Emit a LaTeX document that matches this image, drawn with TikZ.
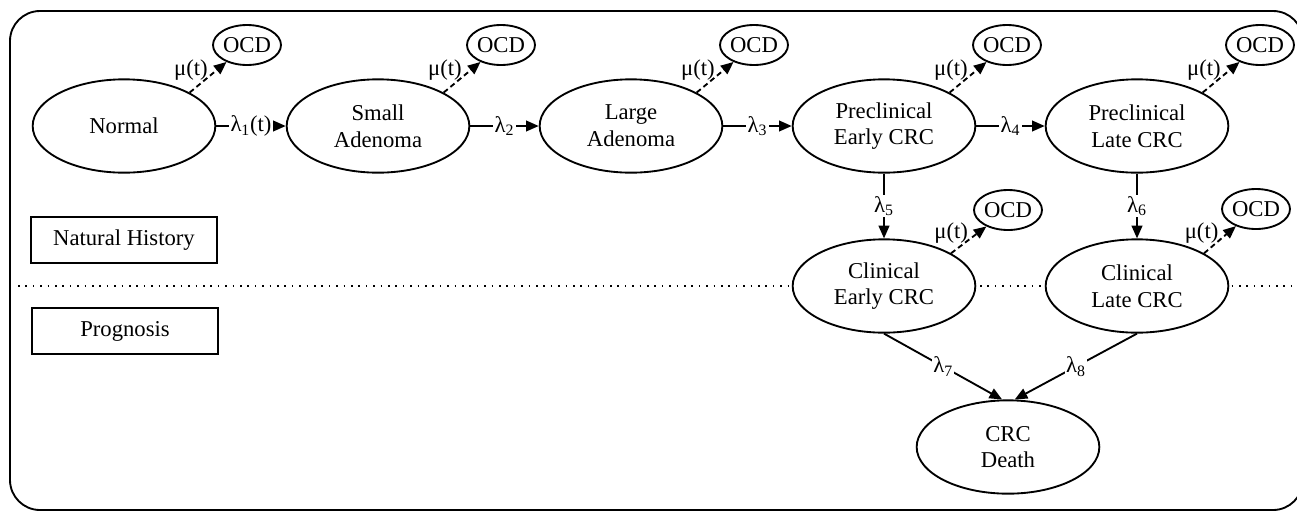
\documentclass[tikz,border=0pt]{standalone}
\usepackage{fontspec}
\setmainfont{Liberation Serif}
\usetikzlibrary{arrows.meta,shapes.geometric}
\begin{document}
\begin{tikzpicture}[x=0.75pt,y=-0.75pt,
  every node/.style={font=\fontsize{17}{20}\selectfont},
  state/.style={ellipse,draw,line width=1.4pt,fill=white,minimum width=137pt,minimum height=70pt,inner sep=0pt,align=center},
  ocd/.style={ellipse,draw,line width=1.4pt,fill=white,minimum width=51pt,minimum height=30pt,inner sep=0pt},
  tag/.style={draw,line width=1.4pt,minimum width=139.5pt,minimum height=34.5pt,inner sep=0pt},
  trans/.style={line width=1.4pt,-{Triangle[length=9.5pt,width=8pt]}},
  other/.style={line width=1.4pt,dash pattern=on 4pt off 2.6pt,-{Triangle[length=9.5pt,width=8pt]}},
  rate/.style={fill=white,inner sep=1pt},
  mu/.style={anchor=east,inner sep=0pt,pos=0.75,xshift=-6.5pt},
]
\useasboundingbox (0,0) rectangle (1297,512);
\draw[line width=1.4pt,rounded corners=22.5pt] (10,11) rectangle (1303,510);
\draw[line width=1.2pt,dash pattern=on 1.2pt off 4.35pt] (18,286) -- (1297,286);

\node[state] (normal) at (124,126) {Normal};
\node[state] (small) at (378,126) {Small\\Adenoma};
\node[state] (large) at (631,126) {Large\\Adenoma};
\node[state] (pe) at (884,126) {Preclinical\\Early CRC};
\node[state] (pl) at (1137,126) {Preclinical\\Late CRC};
\node[state] (ce) at (884,286) {Clinical\\Early CRC};
\node[state] (cl) at (1137,286) {Clinical\\Late CRC};
\node[state] (death) at (1008,447) {CRC\\Death};

\node[ocd] (o1) at (247,45) {OCD};
\node[ocd] (o2) at (501,45) {OCD};
\node[ocd] (o3) at (754,45) {OCD};
\node[ocd] (o4) at (1007,45) {OCD};
\node[ocd] (o5) at (1260,45) {OCD};
\node[ocd] (o6) at (1008,210) {OCD};
\node[ocd] (o7) at (1256,209) {OCD};

\node[tag] (nh) at (124,240) {Natural History};
\node[tag] (pg) at (125,331) {Prognosis};

\draw[trans] (normal) -- node[rate] {λ\textsubscript{1}(t)} (small);
\draw[trans] (small) -- node[rate] {λ\textsubscript{2}} (large);
\draw[trans] (large) -- node[rate] {λ\textsubscript{3}} (pe);
\draw[trans] (pe) -- node[rate] {λ\textsubscript{4}} (pl);
\draw[trans] (pe.south) -- node[rate,pos=0.5] {λ\textsubscript{5}} (ce.north);
\draw[trans] (pl.south) -- node[rate,pos=0.5] {λ\textsubscript{6}} (cl.north);
\draw[trans] (ce.south) -- node[rate] {λ\textsubscript{7}} (death.97);
\draw[trans] (cl.south) -- node[rate] {λ\textsubscript{8}} (death.82);

\draw[other] (normal.27) -- node[mu] {μ(t)} (o1);
\draw[other] (small.27) -- node[mu] {μ(t)} (o2);
\draw[other] (large.27) -- node[mu] {μ(t)} (o3);
\draw[other] (pe.27) -- node[mu] {μ(t)} (o4);
\draw[other] (pl.27) -- node[mu] {μ(t)} (o5);
\draw[other] (ce.26) -- node[mu] {μ(t)} (o6);
\draw[other] (cl.26) -- node[mu] {μ(t)} (o7);
\end{tikzpicture}
\end{document}
